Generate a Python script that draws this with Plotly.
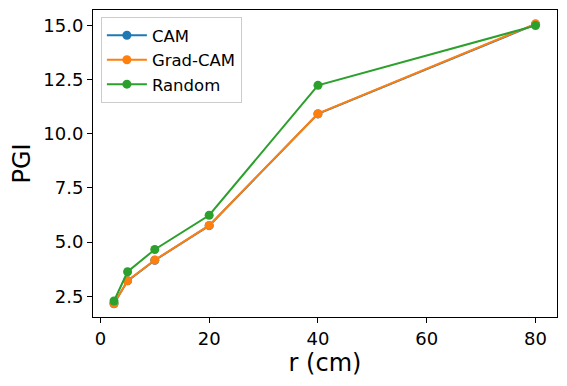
import plotly.graph_objects as go

r_cm = [2.5, 5, 10, 20, 40, 80]
cam = [2.15, 3.21, 4.16, 5.76, 10.92, 15.06]
grad_cam = [2.16, 3.22, 4.17, 5.77, 10.93, 15.08]
random_pgi = [2.28, 3.63, 4.66, 6.24, 12.24, 15.0]

series = [
    ("CAM", cam, "#1f77b4"),
    ("Grad-CAM", grad_cam, "#ff7f0e"),
    ("Random", random_pgi, "#2ca02c"),
]

fig = go.Figure()
for name, vals, col in series:
    fig.add_trace(go.Scatter(
        x=r_cm, y=vals, name=name, mode="lines+markers",
        line=dict(color=col, width=2),
        marker=dict(color=col, size=9),
    ))

axis_style = dict(
    showline=True, mirror=True, linecolor="black", linewidth=1,
    ticks="outside", ticklen=5, tickwidth=1, tickcolor="black",
    showgrid=False, zeroline=False, automargin=False,
    tickfont=dict(size=18, color="black"),
)

# page body has an 8px margin, so the figure is made 8px smaller each way
fig.update_layout(
    width=559, height=378,
    margin=dict(l=85, r=10, t=2, b=69),
    paper_bgcolor="white", plot_bgcolor="white",
    font=dict(family="DejaVu Sans", color="black"),
    legend=dict(
        x=0.017, y=0.977, xanchor="left", yanchor="top",
        bordercolor="#cccccc", borderwidth=1, bgcolor="rgba(255,255,255,0.8)",
        font=dict(size=16.5), tracegroupgap=0, itemwidth=40,
    ),
    xaxis=dict(axis_style, range=[-1.36, 83.95], tickvals=[0, 20, 40, 60, 80],
               title=dict(text="r (cm)", font=dict(size=24), standoff=5)),
    yaxis=dict(axis_style, range=[1.54, 15.72],
               tickvals=[2.5, 5, 7.5, 10, 12.5, 15], tickformat=".1f",
               title=dict(text="PGI", font=dict(size=24), standoff=10)),
)

fig.write_html("out.html")
